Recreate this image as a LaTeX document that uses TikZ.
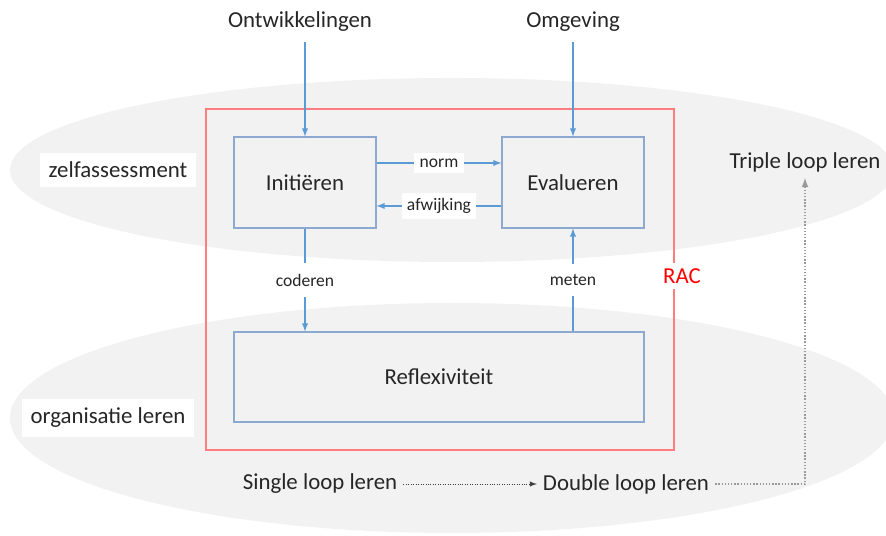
\documentclass[tikz,border=0pt]{standalone}
\usepackage{fontspec}
\setmainfont{Carlito}
\usepackage{xcolor}
\definecolor{ellgray}{HTML}{F2F2F2}
\definecolor{racred}{HTML}{FF7C80}
\definecolor{boxblue}{HTML}{8EA9CF}
\definecolor{arrblue}{HTML}{5B9BD5}
\definecolor{txt}{HTML}{262626}

\begin{document}
\begin{tikzpicture}[font=\fontsize{13}{15}\selectfont, text=txt,
		box/.style={draw=boxblue, line width=0.6pt, minimum width=2.84cm, minimum height=1.82cm, inner sep=0pt},
		lbl/.style={fill=white, text=txt, font=\fontsize{10}{12}\selectfont, inner sep=3pt},
		flow/.style={-latex, arrblue, line width=0.6pt}]
		\useasboundingbox (0,0) rectangle (17.72,10.72);
		
		\fill[ellgray] (9.04,7.32) ellipse (8.84 and 1.84);
		\fill[ellgray] (9.04,2.36) ellipse (8.84 and 2.3);
		
		\draw[racred, line width=0.8pt] (4.12,1.72) rectangle (13.48,8.54);
		\node[fill=white, text=red] (C) at (13.64,5.2) {RAC};
		
		\node[box] (I) at (6.1,7.07) {Initiëren};
		\node[box] (E) at (11.46,7.07) {Evalueren};
		\node[box, minimum width=8.2cm, minimum height=1.8cm] (R) at (8.78,3.18) {Reflexiviteit};
		
		\node (O) at (6.0,10.28) {Ontwikkelingen};
		\node (G) at (11.46,10.28) {Omgeving};
		
		\node[fill=white, inner sep=5pt] (Z) at (2.36,7.32) {zelfassessment};
		\node[fill=white, inner sep=5pt] (L) at (2.16,2.36) {organisatie leren};
		
		\node (T) at (16.1,7.48) {Triple loop leren};
		\node (S) at (6.4,1.04) {Single loop leren};
		\node (D) at (12.52,1.04) {Double loop leren};
		
		
		\path [flow] ([yshift=-2pt]I.north |- O.south) edge (I.north);
		\path [flow] ([yshift=-2pt]G.south) edge (E.north);
		
		\path [flow] ([yshift=0.39cm]I.east) edge node[lbl] {norm} ([yshift=0.39cm]E.west);
		\path [flow] ([yshift=-0.47cm]E.west) edge node[lbl] {afwijking} ([yshift=-0.47cm]I.east);
		\path [flow] (I.south) edge node[lbl, inner sep=6pt] {coderen} (I.south |- R.north);
		\path [flow] (E.south |- R.north) edge node[lbl, inner sep=6pt] {meten} (E.south);
		
		\path [-latex, densely dotted, black!75] (S.east) edge (D.west);
		\draw [-latex, densely dotted, black!40, line width=0.8pt] (D.east) -| (T.south);
		
	\end{tikzpicture}
\end{document}
